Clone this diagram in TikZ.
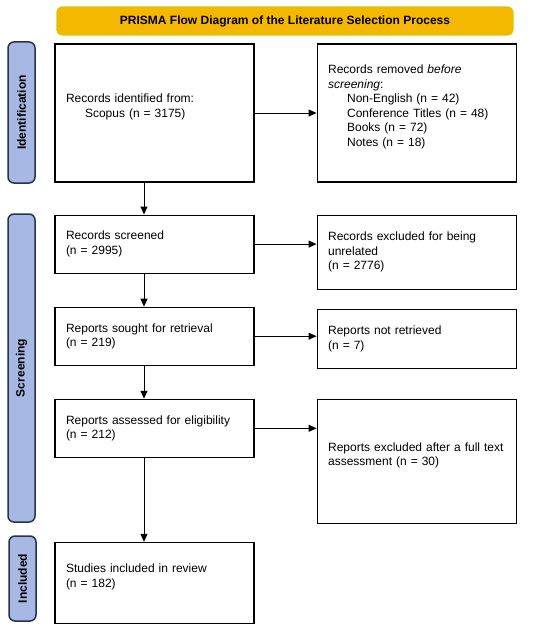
\documentclass[tikz,border=0pt]{standalone}
\usepackage{fontspec}
\setmainfont{Liberation Sans}
\usepackage{tikz}
\usetikzlibrary{positioning,arrows.meta,calc}
\definecolor{tabfill}{RGB}{168,184,228}
\definecolor{tabdraw}{RGB}{40,50,75}
\definecolor{titlefill}{RGB}{244,184,0}
\definecolor{titledraw}{RGB}{214,200,0}
\tikzstyle{pbox}=[rectangle, draw=black, line width=1.1pt, fill=white,
 inner xsep=11pt, inner ysep=3pt, text width=177pt, align=left,
 font=\fontsize{12pt}{14.5pt}\selectfont]
\tikzstyle{tabbox}=[rectangle, rounded corners=6pt, draw=tabdraw, line width=1.5pt,
 fill=tabfill, rotate=90, minimum height=27pt, inner sep=0pt,
 font=\fontsize{12pt}{14.5pt}\selectfont\bfseries]
\tikzstyle{titlebox}=[rectangle, rounded corners=5pt, draw=titledraw, line width=1.2pt,
 fill=titlefill, minimum width=456pt, minimum height=28pt,
 font=\fontsize{12pt}{14.5pt}\selectfont\bfseries]
\tikzstyle{parrow}=[-{Triangle[length=8pt,width=7pt]}, line width=0.9pt]

\begin{document}
\begin{tikzpicture}[x=1pt, y=-1pt, node distance=0pt]
\useasboundingbox (0,0) rectangle (550,626);

\node (TITLE) [titlebox] at (285,21) {PRISMA Flow Diagram of the Literature Selection Process};

% left column
\node (ID) [pbox, minimum height=138pt] at (154.5,113)
 {Records identified from:\\ \hspace*{19pt}Scopus (n = 3175)\\ \mbox{}};
\node (SCR) [pbox, minimum height=58pt, below=32pt of ID]
 {Records screened\\ (n = 2995)};
\node (SGT) [pbox, minimum height=58pt, below=33pt of SCR]
 {Reports sought for retrieval\\ (n = 219)};
\node (ASM) [pbox, minimum height=58pt, below=33pt of SGT]
 {Reports assessed for eligibility\\ (n = 212)};
\node (STU) [pbox, minimum height=81pt, below=84pt of ASM]
 {Studies included in review\\ (n = 182)\\ \mbox{}};

% right column
\node (RM) [pbox, minimum height=138pt, right=62pt of ID]
 {Records removed \emph{before}\\ \emph{screening}:\\
  \hspace*{19pt}Non-English (n = 42)\\
  \hspace*{19pt}Conference Titles (n = 48)\\
  \hspace*{19pt}Books (n = 72)\\
  \hspace*{19pt}Notes (n = 18)\\ \mbox{}};
\node (EXC) [pbox, minimum height=74pt, below=32pt of RM]
 {Records excluded for being\\ unrelated\\ (n = 2776)};
\node (NR) [pbox, minimum height=59pt, below=19pt of EXC]
 {Reports not retrieved\\ (n = 7)};
\node (FT) [pbox, minimum height=124pt, below=30pt of NR]
 {Reports excluded after a full text\\ assessment (n = 30)\\ \mbox{}};

% stage tabs
\node (IDTAB) [tabbox, minimum width=141pt] at (21.5,112.5) {Identification};
\node (SCRTAB) [tabbox, minimum width=308pt] at (21.5,368) {Screening};
\node (INCTAB) [tabbox, minimum width=85pt] at (22.5,578.5) {Included};

\coordinate (COLX) at (144,0);
 \draw[parrow] (ID.east) -- (RM.west);
 \draw[parrow] (SCR.east) -- (SCR.east -| EXC.west);
 \draw[parrow] (SGT.east) -- (SGT.east -| NR.west);
 \draw[parrow] (ASM.east) -- (ASM.east -| FT.west);
 \draw[parrow] (ID.south -| COLX) -- (SCR.north -| COLX);
 \draw[parrow] (SCR.south -| COLX) -- (SGT.north -| COLX);
 \draw[parrow] (SGT.south -| COLX) -- (ASM.north -| COLX);
 \draw[parrow] (ASM.south -| COLX) -- (STU.north -| COLX);

\end{tikzpicture}
\end{document}
